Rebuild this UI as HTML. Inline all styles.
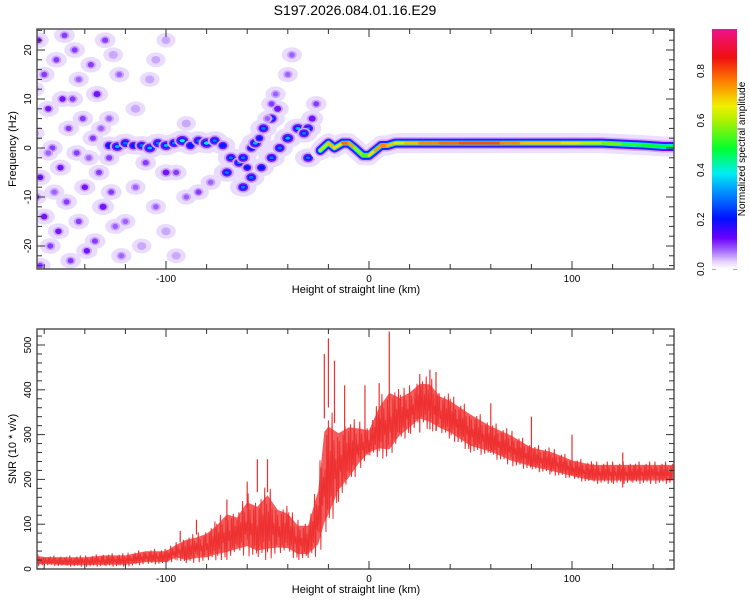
<!DOCTYPE html>
<html><head><meta charset="utf-8"><style>
body{margin:0;background:#fff;font-family:"Liberation Sans",sans-serif;}
svg text{font-family:"Liberation Sans",sans-serif;fill:#000;}
</style></head><body>
<svg id="s" width="750" height="600" xmlns="http://www.w3.org/2000/svg">
<defs>
<linearGradient id="cb" x1="0" y1="1" x2="0" y2="0">
<stop offset="0" stop-color="#ffffff"/><stop offset="0.03" stop-color="#e6d2ff"/>
<stop offset="0.08" stop-color="#a060ff"/><stop offset="0.13" stop-color="#6a00ff"/>
<stop offset="0.21" stop-color="#0010ff"/><stop offset="0.32" stop-color="#0090ff"/>
<stop offset="0.40" stop-color="#00f0f0"/><stop offset="0.50" stop-color="#00ff30"/>
<stop offset="0.62" stop-color="#b0f000"/><stop offset="0.68" stop-color="#f0f000"/>
<stop offset="0.78" stop-color="#ff8000"/><stop offset="0.88" stop-color="#f01010"/>
<stop offset="1" stop-color="#f0108a"/>
</linearGradient>
<clipPath id="c1"><rect x="37" y="29" width="637" height="240"/></clipPath>
<clipPath id="c2"><rect x="37" y="329" width="637" height="240"/></clipPath>
</defs>
<text x="355" y="15" font-size="14" text-anchor="middle">S197.2026.084.01.16.E29</text>
<g id="spec" clip-path="url(#c1)"></g>
<g id="snr" clip-path="url(#c2)"></g>
<g id="axes"></g>
<rect x="712" y="29" width="25" height="240" fill="url(#cb)"/>
<text transform="translate(745,149) rotate(-90)" font-size="10" text-anchor="middle">Normalized spectral amplitude</text>
<text x="356" y="293" font-size="11" text-anchor="middle">Height of straight line (km)</text>
<text x="356" y="593" font-size="11" text-anchor="middle">Height of straight line (km)</text>
<text transform="translate(16,149) rotate(-90)" font-size="11" text-anchor="middle">Frequency (Hz)</text>
<text transform="translate(16,449) rotate(-90)" font-size="11" text-anchor="middle">SNR (10 * v/v)</text>
</svg>
<script>
// ---- data ----
const xTicks=[-100,0,100];
const fTicks=[-20,-10,0,10,20];
const snrTicks=[0,100,200,300,400,500];
const cbTicks=[0.0,0.2,0.4,0.6,0.8];
const snrKm=[-165,-160,-150,-140,-130,-120,-110,-100,-95,-90,-85,-80,-75,-70,-65,-60,-55,-50,-45,-40,-35,-30,-25,-22,-20,-15,-10,-5,0,5,10,15,20,25,30,35,40,50,60,70,80,90,100,110,120,130,140,150];
const snrLo=[5,8,5,5,5,5,10,10,20,10,15,15,20,20,30,30,20,20,30,30,20,20,30,60,80,150,180,220,250,250,240,280,300,320,310,300,290,260,250,230,220,210,200,190,190,190,190,190];
const snrHi=[35,30,30,30,35,35,45,45,60,75,80,90,110,140,130,170,160,190,150,140,110,110,200,350,360,330,340,330,320,380,420,400,410,430,430,400,390,360,330,310,280,270,250,240,240,240,240,240];
const spikeKm=[-93,-85,-70,-60,-55,-50,-22,-20,-17,-12,-2,5,10,25,30,33,60,80,100,125];
const spikeVal=[85,110,155,195,245,245,480,515,465,410,410,415,530,435,445,440,370,340,300,260];
const ridgeKm=[-24,-20,-17,-13,-10,-7,-3,0,3,6,9,13,18,25,35,45,55,65,75,85,95,105,115,125,135,145,151];
const ridgeHz=[-0.5,1,0,1,1,0,-1.5,-1.5,-0.5,0.5,0.5,1,1,1,1,1,1,1,1,1,1,1,1,0.8,0.6,0.3,0.3];
const ridgeAmp=[0.4,0.85,0.6,0.8,0.8,0.7,0.5,0.6,0.8,0.7,0.85,0.6,0.7,0.75,0.8,0.8,0.85,0.8,0.75,0.7,0.75,0.65,0.6,0.55,0.5,0.5,0.5];
const blobs=[
[-128,0.5,0.25],[-124,0.3,0.35],[-120,1,0.3],[-116,0.5,0.25],[-112,0.5,0.3],[-108,0,0.35],[-104,1,0.3],[-100,0.5,0.35],[-96,1,0.3],[-92,1.5,0.4],[-88,0.5,0.25],[-84,1.5,0.3],[-80,1,0.4],[-76,1.5,0.3],[-72,0.5,0.25],[-68,-2,0.3],[-64,-3,0.3],[-60,-4,0.2],[-58,0,0.25],
[-70,-5,0.3],[-62,-2,0.3],[-56,1,0.35],[-52,4,0.3],[-48,6,0.3],[-45,8,0.15],
[-62,-8,0.3],[-58,-6,0.3],[-53,-4,0.25],[-48,-2,0.3],[-44,0,0.3],[-40,2,0.35],[-35,4,0.35],[-30,4,0.3],[-28,6,0.15],[-26,9,0.1],
[-50,6,0.08],[-48,9,0.1],[-46,11,0.08],[-40,15,0.08],[-38,19,0.08],[-32,3,0.3],[-30,-2,0.3],[-54,2,0.2],
[-90,-10,0.08],[-84,-9,0.1],[-78,-7,0.08],[-95,-5,0.1],[-100,-5,0.15],[-110,-3,0.1],[-115,-8,0.08],[-105,-12,0.08],[-100,-17,0.06],[-95,-22,0.05],[-120,-15,0.08],[-112,-20,0.06],[-108,14,0.06],[-115,8,0.07],[-105,18,0.05],[-90,5,0.05],[-100,22,0.04],
[-163,22,0.12],[-160,15,0.1],[-158,8,0.12],[-156,0,0.1],[-162,-6,0.12],[-160,-14,0.12],[-157,-20,0.1],[-162,-24,0.1],[-154,18,0.1],[-150,23,0.1],[-151,10,0.12],[-148,4,0.1],[-152,-4,0.12],[-149,-11,0.1],[-153,-17,0.12],[-147,-23,0.1],
[-145,20,0.1],[-143,14,0.08],[-141,6,0.1],[-144,-1,0.1],[-140,-8,0.12],[-143,-15,0.1],[-139,-21,0.12],[-137,17,0.1],[-134,11,0.15],[-136,2,0.1],[-133,-5,0.1],[-131,-12,0.15],[-135,-19,0.1],[-130,22,0.1],[-128,6,0.08],[-127,-9,0.1],[-125,-16,0.08],[-123,15,0.08],[-122,-22,0.08],[-128,-2,0.1],
[-165,12,0.1],[-165,3,0.1],[-164,-10,0.12],[-158,-1,0.08],[-155,-9,0.08],[-146,10,0.1],[-138,-2,0.08],[-132,4,0.08],[-126,19,0.06]
];
// ---- scales ----
const X=k=>369+2.03*k;
const F=h=>148-4.9*h;
const S=v=>569-0.448*v;
const CB=a=>269-247.5*a;
const NS='http://www.w3.org/2000/svg';
function mk(tag,attrs,parent){const e=document.createElementNS(NS,tag);for(const k in attrs)e.setAttribute(k,attrs[k]);parent.appendChild(e);return e;}
const stops=[[0,[255,255,255]],[0.03,[230,210,255]],[0.08,[160,96,255]],[0.13,[106,0,255]],[0.21,[0,16,255]],[0.32,[0,144,255]],[0.40,[0,240,240]],[0.5,[0,255,48]],[0.62,[176,240,0]],[0.68,[240,240,0]],[0.78,[255,128,0]],[0.88,[240,16,16]],[1,[240,16,138]]];
function cmap(a){for(let i=1;i<stops.length;i++){if(a<=stops[i][0]){const[p0,c0]=stops[i-1],[p1,c1]=stops[i];const t=(a-p0)/(p1-p0);return 'rgb('+c0.map((c,j)=>Math.round(c+(c1[j]-c)*t)).join(',')+')';}}return 'rgb(240,16,138)';}
// ---- spectrogram ----
const spec=document.getElementById('spec');
const haloG=mk('g',{},spec);
const coreG=mk('g',{},spec);
blobs.forEach(b=>{
  const cx=X(b[0]),cy=F(b[1]),a=b[2];
  const h=mk('ellipse',{cx:cx,cy:cy,rx:9+a*14,ry:7+a*8,fill:'#eadcff'},haloG);
  
  
  const g=mk('g',{},coreG);
  
  
  const rx=2+a*10, ry=2+a*7;
  mk('ellipse',{cx:cx,cy:cy,rx:rx+2,ry:ry+1.5,fill:'#c9a8ff'},g);
  if(a>0.07)mk('ellipse',{cx:cx,cy:cy,rx:rx,ry:ry,fill:cmap(Math.min(a,0.12))},g);
  if(a>0.18)mk('ellipse',{cx:cx,cy:cy,rx:rx*0.7,ry:ry*0.6,fill:cmap(0.22)},g);
  if(a>0.25)mk('ellipse',{cx:cx,cy:cy,rx:rx*0.45,ry:ry*0.35,fill:cmap(a)},g);
});
const rpts=ridgeKm.map((k,i)=>X(k)+','+F(ridgeHz[i])).join(' ');
[[20,'#ecdfff'],[12,'#c8a8ff'],[9,'#6a00ff'],[7,'#0030ff'],[5,'#00e0f0']].forEach(l=>{
  const p=mk('polyline',{points:rpts,fill:'none',stroke:l[1],'stroke-width':l[0],'stroke-linecap':'round','stroke-linejoin':'round'},spec);
  
  
});
for(let i=0;i<ridgeKm.length-1;i++){
  const a=(ridgeAmp[i]+ridgeAmp[i+1])/2;
  const l=mk('line',{x1:X(ridgeKm[i]),y1:F(ridgeHz[i]),x2:X(ridgeKm[i+1]),y2:F(ridgeHz[i+1]),stroke:cmap(a),'stroke-width':3,'stroke-linecap':'round'},spec);
  
  
}
// ---- SNR ----
const snr=document.getElementById('snr');
let band=snrKm.map((k,i)=>X(k)+','+S(snrLo[i]+(snrHi[i]-snrLo[i])*0.85)).join(' ')+' '+snrKm.slice().reverse().map((k,j)=>{const i=snrKm.length-1-j;return X(k)+','+S(snrLo[i]+(snrHi[i]-snrLo[i])*0.15);}).join(' ');
const bp=mk('polygon',{points:band,fill:'#f03434',opacity:0.8},snr);


const pat=[0.9,0.1,0.65,0.25,1,0,0.75,0.35,0.55,0.05,0.8,0.2];
let zz=[];
for(let i=0;i<snrKm.length-1;i++){
  const n=Math.max(4,Math.round((X(snrKm[i+1])-X(snrKm[i]))/0.9));
  for(let j=0;j<n;j++){
    const t=j/n;const lo=snrLo[i]+(snrLo[i+1]-snrLo[i])*t, hi=snrHi[i]+(snrHi[i+1]-snrHi[i])*t;
    const f=pat[(i*5+j)%pat.length];
    zz.push(X(snrKm[i]+(snrKm[i+1]-snrKm[i])*t)+','+S(lo+(hi-lo)*f));
  }
}
const zl=mk('polyline',{points:zz.join(' '),fill:'none',stroke:'#ee3030','stroke-width':1},snr);


spikeKm.forEach((k,i)=>{
  const l=mk('line',{x1:X(k),y1:S(spikeVal[i]*0.7),x2:X(k),y2:S(spikeVal[i]),stroke:'#ee3030','stroke-width':1.2},snr);
  
  
});
// ---- axes ----
const ax=document.getElementById('axes');
function frame(y0,y1,name){
  const r=mk('rect',{x:37,y:y0,width:637,height:y1-y0,fill:'none',stroke:'#555','stroke-width':1.5},ax);
  
  
  for(let k=-160;k<=150;k+=20){
    const L=(k%100===0)?8:5;
    mk('line',{x1:X(k),y1:y0,x2:X(k),y2:y0+L,stroke:'#333'},ax);
    mk('line',{x1:X(k),y1:y1,x2:X(k),y2:y1-L,stroke:'#333'},ax);
  }
  xTicks.forEach(k=>{
    const t=mk('text',{x:X(k),y:y1+13,'font-size':10,'text-anchor':'middle'},ax);t.textContent=k;
    
    
  });
}
frame(29,269,'spectrogram-frame');frame(329,569,'snr-frame');
for(let h=-24;h<=24;h+=2){const L=(h%10===0)?8:5;mk('line',{x1:37,y1:F(h),x2:37+L,y2:F(h),stroke:'#333'},ax);mk('line',{x1:674,y1:F(h),x2:674-L,y2:F(h),stroke:'#333'},ax);}
fTicks.forEach(h=>{const t=mk('text',{transform:`translate(31,${F(h)}) rotate(-90)`,'font-size':10,'text-anchor':'middle'},ax);t.textContent=h;

});
for(let v=0;v<=530;v+=20){const L=(v%100===0)?8:5;mk('line',{x1:37,y1:S(v),x2:37+L,y2:S(v),stroke:'#333'},ax);mk('line',{x1:674,y1:S(v),x2:674-L,y2:S(v),stroke:'#333'},ax);}
snrTicks.forEach(v=>{const t=mk('text',{transform:`translate(31,${S(v)}) rotate(-90)`,'font-size':10,'text-anchor':'middle'},ax);t.textContent=v;

});
cbTicks.forEach(v=>{const t=mk('text',{transform:`translate(704,${CB(v)}) rotate(-90)`,'font-size':10,'text-anchor':'middle'},ax);t.textContent=v.toFixed(1);


mk('line',{x1:712,y1:CB(v),x2:716,y2:CB(v),stroke:'#555'},ax);mk('line',{x1:733,y1:CB(v),x2:737,y2:CB(v),stroke:'#555'},ax);});
</script>
</body></html>
